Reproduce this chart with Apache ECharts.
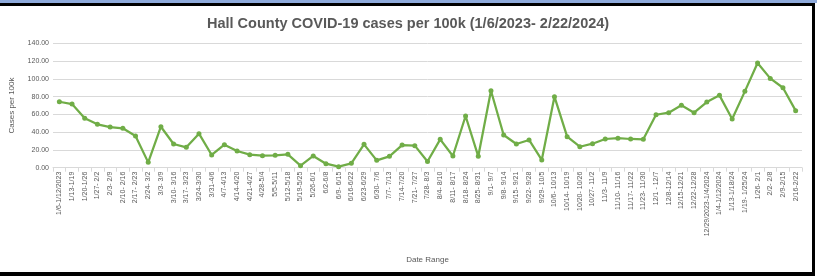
<!DOCTYPE html>
<html>
<head>
<meta charset="utf-8">
<style>
  html, body { margin: 0; padding: 0; background: #fff; }
  #wrap { position: relative; width: 817px; height: 276px; overflow: hidden; }
  #chart { position: absolute; left: 0; top: 0; width: 817px; height: 276px; }
  .bar { position: absolute; }
</style>
<script src="https://cdn.jsdelivr.net/npm/echarts@6/dist/echarts.min.js"></script>
</head>
<body>
<div id="wrap">
  <div id="chart"></div>
  <div class="bar" style="left:0;top:0;width:817px;height:3px;background:#8eaadb;"></div>
  <div class="bar" style="left:0;top:3px;width:815px;height:3px;background:#000;"></div>
  <div class="bar" style="left:812px;top:3px;width:3px;height:273px;background:#000;"></div>
  <div class="bar" style="left:0;top:272px;width:815px;height:4px;background:#000;"></div>
</div>
<script>
    'use strict';

    // week ranges
    var weeks = [
        '1/6-1/12/2023', '1/13-1/19', '1/20-1/26', '1/27- 2/2', '2/3- 2/9', '2/10- 2/16', '2/17- 2/23',
        '2/24- 3/2', '3/3- 3/9', '3/10- 3/16', '3/17- 3/23', '3/24-3/30', '3/31-4/6', '4/7-4/13',
        '4/14-4/20', '4/21-4/27', '4/28-5/4', '5/5-5/11', '5/12-5/18', '5/19-5/25', '5/26-6/1',
        '6/2-6/8', '6/9- 6/15', '6/16-6/22', '6/23-6/29', '6/30- 7/6', '7/7- 7/13', '7/14-7/20',
        '7/21- 7/27', '7/28- 8/3', '8/4- 8/10', '8/11- 8/17', '8/18- 8/24', '8/25- 8/31', '9/1- 9/7',
        '9/8- 9/14', '9/15- 9/21', '9/22- 9/28', '9/29- 10/5', '10/6- 10/13', '10/14- 10/19',
        '10/20- 10/26', '10/27- 11/2', '11/3- 11/9', '11/10- 11/16', '11/17- 11/22', '11/23- 11/30',
        '12/1 - 12/7', '12/8-12/14', '12/15-12/21', '12/22-12/28', '12/29/2023-1/4/2024',
        '1/4-1/12/2024', '1/13-1/18/24', '1/19- 1/25/24', '1/26- 2/1', '2/2- 2/8', '2/9-2/15', '2/16-2/22'
    ];

    // cases per 100k
    var cases = [
        74.2, 71.6, 55.6, 48.8, 45.7, 44.3, 35.7, 6.0, 46.1, 26.7,
        22.9, 38.3, 14.3, 25.9, 18.8, 14.7, 13.5, 13.9, 15.0, 2.3,
        13.2, 4.5, 1.2, 4.9, 26.3, 8.3, 12.8, 25.5, 24.8, 7.0,
        31.9, 13.2, 58.2, 12.8, 86.6, 36.8, 26.7, 31.2, 8.7, 79.9,
        34.9, 23.6, 27.0, 32.3, 33.2, 32.3, 32.0, 59.6, 61.9, 70.2,
        61.9, 73.9, 81.4, 54.8, 85.9, 117.8, 100.5, 90.0, 64.2
    ];

    var yTicks = { min: 0, max: 140, step: 20 };

    var gray = '#595959';
    var font = 'Liberation Sans';

    var option = {
        animation: false,
        title: {
            text: 'Hall County COVID-19 cases per 100k (1/6/2023- 2/22/2024)',
            left: 202,
            top: 11,
            textStyle: { fontFamily: font, fontSize: 14.5, fontWeight: 'bold', color: gray }
        },
        grid: { left: 53, right: 15, top: 43.3, bottom: 108.3 },
        xAxis: {
            type: 'category',
            data: weeks,
            name: 'Date Range',
            nameLocation: 'middle',
            nameGap: 88,
            nameTextStyle: { fontFamily: font, fontSize: 8, color: gray },
            axisLine: { lineStyle: { color: '#d9d9d9', width: 1 } },
            axisTick: { show: true, length: 4, lineStyle: { color: '#d9d9d9' } },
            axisLabel: { interval: 0, rotate: 90, fontFamily: font, fontSize: 7, color: gray, margin: 4 }
        },
        yAxis: {
            type: 'value',
            min: yTicks.min,
            max: yTicks.max,
            interval: yTicks.step,
            name: 'Cases per 100k',
            nameLocation: 'middle',
            nameGap: 37,
            nameTextStyle: { fontFamily: font, fontSize: 8, color: gray },
            axisLine: { show: false },
            axisTick: { show: false },
            axisLabel: {
                fontFamily: font, fontSize: 7, color: gray, margin: 4,
                formatter: function (v) { return v.toFixed(2); }
            },
            splitLine: { lineStyle: { color: '#d9d9d9', width: 1 } }
        },
        series: [{
            type: 'line',
            data: cases,
            symbol: 'circle',
            symbolSize: 5,
            lineStyle: { color: '#70ad47', width: 2.25 },
            itemStyle: { color: '#70ad47' }
        }]
    };

    var chart = echarts.init(document.getElementById('chart'), null, { renderer: 'canvas' });
    chart.setOption(option);
</script>
</body>
</html>
